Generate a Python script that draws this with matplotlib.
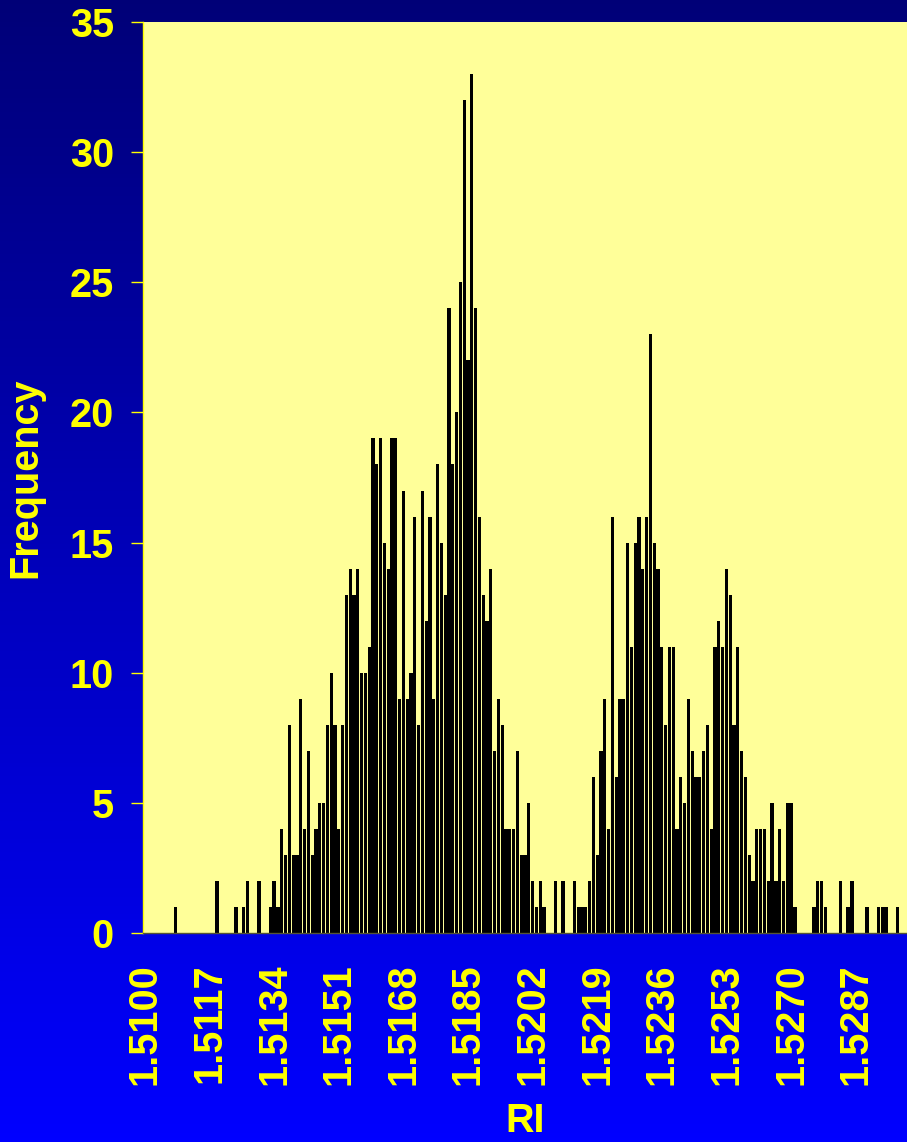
import numpy as np
import matplotlib
matplotlib.use("Agg")
import matplotlib.pyplot as plt

# RI categories: 1.5100 .. 1.5300 in steps of 0.0001 (201 bins)
ri_start = 1.5100
ri_step = 0.0001
label_every = 17

# frequency per bin (17 bins per row)
freq = [
    0, 0, 0, 0, 0, 0, 0, 0, 1, 0, 0, 0, 0, 0, 0, 0, 0,
    0, 0, 2, 0, 0, 0, 0, 1, 0, 1, 2, 0, 0, 2, 0, 0, 1,
    2, 1, 4, 3, 8, 3, 3, 9, 4, 7, 3, 4, 5, 5, 8, 10, 8,
    4, 8, 13, 14, 13, 14, 10, 10, 11, 19, 18, 19, 15, 14, 19, 19, 9,
    17, 9, 10, 16, 8, 17, 12, 16, 9, 18, 15, 13, 24, 18, 20, 25, 32,
    22, 33, 24, 16, 13, 12, 14, 7, 9, 8, 4, 4, 4, 7, 3, 3, 5,
    2, 1, 2, 1, 0, 0, 2, 0, 2, 0, 0, 2, 1, 1, 1, 2, 6,
    3, 7, 9, 4, 16, 6, 9, 9, 15, 11, 15, 16, 14, 16, 23, 15, 14,
    11, 8, 11, 11, 4, 6, 5, 9, 7, 6, 6, 7, 8, 4, 11, 12, 11,
    14, 13, 8, 11, 7, 6, 3, 2, 4, 4, 4, 2, 5, 2, 4, 2, 5,
    5, 1, 0, 0, 0, 0, 1, 2, 2, 1, 0, 0, 0, 2, 0, 1, 2,
    0, 0, 0, 1, 0, 0, 1, 1, 1, 0, 0, 1, 0, 0,
]
y_ticks = [0, 5, 10, 15, 20, 25, 30, 35]

plt.rcParams['font.family'] = ['Liberation Sans', 'DejaVu Sans']
plt.rcParams['font.weight'] = 'bold'

fig = plt.figure(figsize=(9.07, 11.42), dpi=100)

# navy -> blue gradient behind everything
bg = fig.add_axes([0, 0, 1, 1], zorder=0)
grad = np.linspace(0, 1, 256).reshape(-1, 1)
top = np.array([0.0, 0.0, 0.47])
bottom = np.array([0.0, 0.0, 1.0])
img = top + grad[:, :, None] * (bottom - top)
bg.imshow(img, aspect='auto', extent=[0, 1, 0, 1], origin='upper')
bg.axis('off')

ax = fig.add_axes([143 / 907, 209 / 1142, 764 / 907, 911 / 1142], zorder=1)
ax.set_facecolor('#FFFF99')

x = np.arange(len(freq))
ax.bar(x, freq, width=0.86, color='black', linewidth=0)

ax.set_xlim(-0.5, len(freq) - 0.5)
ax.set_ylim(0, 35)
ax.set_yticks(y_ticks)
tick_pos = x[::label_every]
ax.set_xticks(tick_pos)
ax.set_xticklabels([f"{ri_start + i * ri_step:.4f}" for i in tick_pos], rotation=90)

ax.tick_params(axis='y', colors='yellow', labelsize=28.5, length=9, width=1,
               direction='out', pad=12)
ax.tick_params(axis='x', colors='yellow', labelsize=28.5, length=0, pad=22)
for lab in ax.get_xticklabels() + ax.get_yticklabels():
    lab.set_fontweight('bold')

ax.spines['top'].set_visible(False)
ax.spines['right'].set_visible(False)
ax.spines['left'].set_color('yellow')
ax.spines['left'].set_linewidth(1)
ax.spines['bottom'].set_color('#555533')
ax.spines['bottom'].set_linewidth(1)

ax.set_xlabel("RI", fontsize=28.5, fontweight='bold', color='yellow', labelpad=12)
ax.set_ylabel("Frequency", fontsize=28.5, fontweight='bold', color='yellow', labelpad=18)

fig.savefig("out.png", dpi=100)
